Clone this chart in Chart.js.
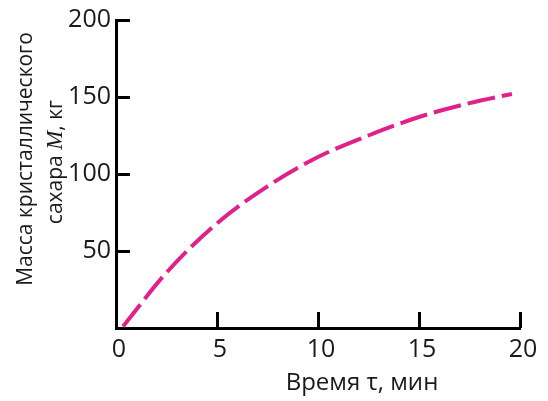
<!DOCTYPE html>
<html>
<head>
<meta charset="utf-8">
<script src="https://cdn.jsdelivr.net/npm/chart.js@4"></script>
<style>
html,body{margin:0;padding:0;background:#fff;}
#wrap{width:548px;height:401px;position:relative;}
</style>
</head>
<body>
<div id="wrap"><canvas id="c" width="548" height="401"></canvas></div>
<script>
// Data
const timeMin = [0.35, 2.5, 5, 7.5, 10, 12.5, 15, 17.5, 19.6];
const massKg  = [1, 36, 68, 92, 111, 125, 137, 146, 152];
const xTicks = [0, 5, 10, 15, 20];
const yTicks = [50, 100, 150, 200];
const xTitle = 'Время τ, мин';
const yTitleLine1 = 'Масса кристаллического';
const yTitleLine2 = ['сахара ', 'M', ', кг'];

const FONT = '"Open Sans", "Noto Sans", sans-serif';

const innerTicks = {
  id: 'innerTicks',
  afterDraw(chart) {
    const ctx = chart.ctx;
    const xs = chart.scales.x, ys = chart.scales.y;
    const ca = chart.chartArea;
    ctx.save();
    ctx.strokeStyle = '#000';
    ctx.lineWidth = 3;
    yTicks.forEach(v => {
      const py = Math.round(ys.getPixelForValue(v)) + 0.5;
      ctx.beginPath();
      ctx.moveTo(ca.left, py);
      ctx.lineTo(ca.left + 14, py);
      ctx.stroke();
    });
    xTicks.forEach(v => {
      if (v === 0) return;
      const px = Math.round(xs.getPixelForValue(v)) + 0.5;
      ctx.beginPath();
      ctx.moveTo(px, ca.bottom);
      ctx.lineTo(px, ca.bottom - 16);
      ctx.stroke();
    });
    // x title
    ctx.fillStyle = '#1a1a1a';
    ctx.font = '24px ' + FONT;
    ctx.textAlign = 'center';
    ctx.textBaseline = 'alphabetic';
    ctx.fillText(xTitle, 362, 390);
    // y title line 1
    ctx.save();
    ctx.translate(32, 159);
    ctx.rotate(-Math.PI / 2);
    ctx.font = '21px ' + FONT;
    ctx.textAlign = 'center';
    ctx.fillText(yTitleLine1, 0, 0);
    ctx.restore();
    // y title line 2 (mixed fonts)
    ctx.save();
    ctx.translate(62, 162);
    ctx.rotate(-Math.PI / 2);
    ctx.textAlign = 'left';
    const fonts = ['21px ' + FONT, 'italic 23px "Liberation Serif", serif', '21px ' + FONT];
    let total = 0;
    const widths = yTitleLine2.map((t, i) => { ctx.font = fonts[i]; const w = ctx.measureText(t).width; total += w; return w; });
    let x = -total / 2;
    yTitleLine2.forEach((t, i) => { ctx.font = fonts[i]; ctx.fillText(t, x, 0); x += widths[i]; });
    ctx.restore();
    ctx.restore();
  }
};

new Chart(document.getElementById('c'), {
  type: 'line',
  data: {
    datasets: [{
      data: timeMin.map((t, i) => ({x: t, y: massKg[i]})),
      borderColor: '#e0218a',
      borderWidth: 4,
      borderDash: [28, 7],
      borderCapStyle: 'butt',
      pointRadius: 0,
      fill: false,
      cubicInterpolationMode: 'monotone'
    }]
  },
  options: {
    responsive: false,
    animation: false,
    events: [],
    layout: {padding: {top: 18, right: 28, left: 0, bottom: 0}},
    plugins: {legend: {display: false}, tooltip: {enabled: false}},
    scales: {
      x: {
        type: 'linear', min: 0, max: 20,
        afterFit(s) { s.height = 73; },
        afterBuildTicks(s) { s.ticks = xTicks.map(v => ({value: v})); },
        grid: {display: false, drawTicks: false},
        border: {display: true, color: '#000', width: 3},
        ticks: {font: {family: FONT, size: 25}, color: '#1a1a1a', padding: 7, maxRotation: 0, labelOffset: 3}
      },
      y: {
        type: 'linear', min: 0, max: 200,
        afterFit(s) { s.width = 116; },
        afterBuildTicks(s) { s.ticks = yTicks.map(v => ({value: v})); },
        grid: {display: false, drawTicks: false},
        border: {display: true, color: '#000', width: 3},
        ticks: {font: {family: FONT, size: 25}, color: '#1a1a1a', padding: 5}
      }
    }
  },
  plugins: [innerTicks]
});
</script>
</body>
</html>
